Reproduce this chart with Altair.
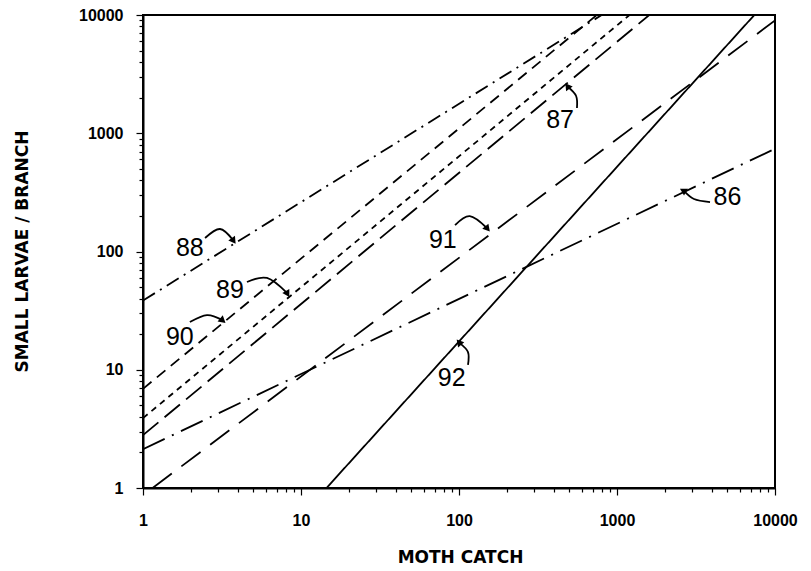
import altair as alt
import pandas as pd

# ---- data (log-log straight lines: start and end points) ----
series = ["86", "87", "88", "89", "90", "91", "92"]
x_start = [1, 1, 1, 1, 1, 1.15, 14.5]
y_start = [2.13, 2.8, 38.5, 3.9, 6.9, 1, 1]
x_end = [10000, 1600, 800, 1200, 745, 10000, 7400]
y_end = [740, 10000, 10000, 10000, 10000, 9000, 10000]

# line labels (data coordinates)
label_text = ["86", "87", "88", "89", "90", "91", "92"]
label_x = [5000, 436, 1.98, 3.55, 1.71, 79, 90]
label_y = [288, 1300, 107, 47, 18.9, 125, 8.5]

# curved pointer arrows: tail, bend, head (data coordinates)
arrow_id = ["86", "87", "88", "89", "90", "91", "92"]
arrow_tail_x = [3880, 558, 2.47, 4.55, 1.98, 94.4, 114]
arrow_tail_y = [262, 1636, 130, 55.2, 25.3, 167, 11.0]
arrow_mid_x = [3070, 551, 3.07, 6.09, 2.54, 117, 114]
arrow_mid_y = [278, 2066, 155, 59.7, 29.0, 199, 14.1]
arrow_head_x = [2655, 490, 3.71, 8.15, 3.16, 150, 101]
arrow_head_y = [325, 2461, 125, 44.6, 26.4, 158, 16.8]
arrow_head_angle = [300, 325, 145, 150, 130, 140, 320]

major_ticks = [1, 10, 100, 1000, 10000]
tick_values = [m * 10 ** e for e in range(4) for m in range(1, 10)] + [10000]

dash_patterns = [[24, 8, 2, 8], [20, 8], [14, 6, 2, 6], [6, 5], [11, 7], [24, 12], [1, 0]]

lines_df = pd.DataFrame({
    "series": series + series,
    "x": x_start + x_end,
    "y": y_start + y_end,
    "order": [0] * len(series) + [1] * len(series),
})
labels_df = pd.DataFrame({"text": label_text, "x": label_x, "y": label_y})
n = len(arrow_id)
curves_df = pd.DataFrame({
    "id": arrow_id * 3,
    "x": arrow_tail_x + arrow_mid_x + arrow_head_x,
    "y": arrow_tail_y + arrow_mid_y + arrow_head_y,
    "order": [0] * n + [1] * n + [2] * n,
})
heads_df = pd.DataFrame({"id": arrow_id, "x": arrow_head_x, "y": arrow_head_y,
                         "angle": arrow_head_angle})

is_major = "indexof([1,10,100,1000,10000], datum.value) >= 0"
label_expr = is_major + " ? format(datum.value, 'd') : ''"

x_scale = alt.Scale(type="log", domain=[1, 10000], nice=False)
y_scale = alt.Scale(type="log", domain=[1, 10000], nice=False)

x_axis = alt.Axis(
    values=tick_values, labelExpr=label_expr, title="MOTH CATCH",
    grid=False, tickSize={"condition": {"test": is_major, "value": 7}, "value": 4},
    labelPadding=17, labelFlush=False, labelOverlap=False,
    titleX=317, titleY=69, titleBaseline="middle", titleAlign="center",
)
y_axis = alt.Axis(
    values=tick_values, labelExpr=label_expr, title="SMALL LARVAE / BRANCH",
    grid=False, tickSize={"condition": {"test": is_major, "value": 7}, "value": 4},
    labelPadding=13, labelFlush=False, labelOverlap=False,
    titleX=-121, titleY=236, titleAngle=-90, titleBaseline="middle", titleAlign="center",
)

lines = alt.Chart(lines_df).mark_line(clip=True, strokeWidth=1.8, color="black").encode(
    x=alt.X("x:Q", scale=x_scale, axis=x_axis),
    y=alt.Y("y:Q", scale=y_scale, axis=y_axis),
    detail="series:N",
    order="order:Q",
    strokeDash=alt.StrokeDash("series:N", scale=alt.Scale(domain=series, range=dash_patterns), legend=None),
)

labels = alt.Chart(labels_df).mark_text(
    font="Liberation Sans", fontSize=25, color="black", align="center", baseline="middle"
).encode(
    x=alt.X("x:Q", scale=x_scale), y=alt.Y("y:Q", scale=y_scale), text="text:N"
)

curves = alt.Chart(curves_df).mark_line(
    color="black", strokeWidth=1.8, interpolate="cardinal"
).encode(
    x=alt.X("x:Q", scale=x_scale), y=alt.Y("y:Q", scale=y_scale),
    detail="id:N", order="order:Q",
)

heads = alt.Chart(heads_df).mark_point(
    shape="triangle", filled=True, color="black", size=65, opacity=1
).encode(
    x=alt.X("x:Q", scale=x_scale), y=alt.Y("y:Q", scale=y_scale),
    angle=alt.Angle("angle:Q", scale=None),
)

chart = alt.layer(lines, labels, curves, heads).properties(
    width=632, height=473,
    autosize=alt.AutoSizeParams(type="none"),
    padding={"left": 143, "top": 15, "right": 36, "bottom": 83},
).configure_view(
    stroke="black", strokeWidth=2
).configure_axis(
    domainColor="black", domainWidth=2, tickColor="black", tickWidth=1.2,
    labelFont="Liberation Sans", labelFontWeight="bold", labelFontSize=16, labelColor="black",
    titleFont="DejaVu Sans", titleFontWeight="bold", titleFontSize=17, titleColor="black",
)

chart.save("out.html", embed_options={"renderer": "svg", "actions": False})
